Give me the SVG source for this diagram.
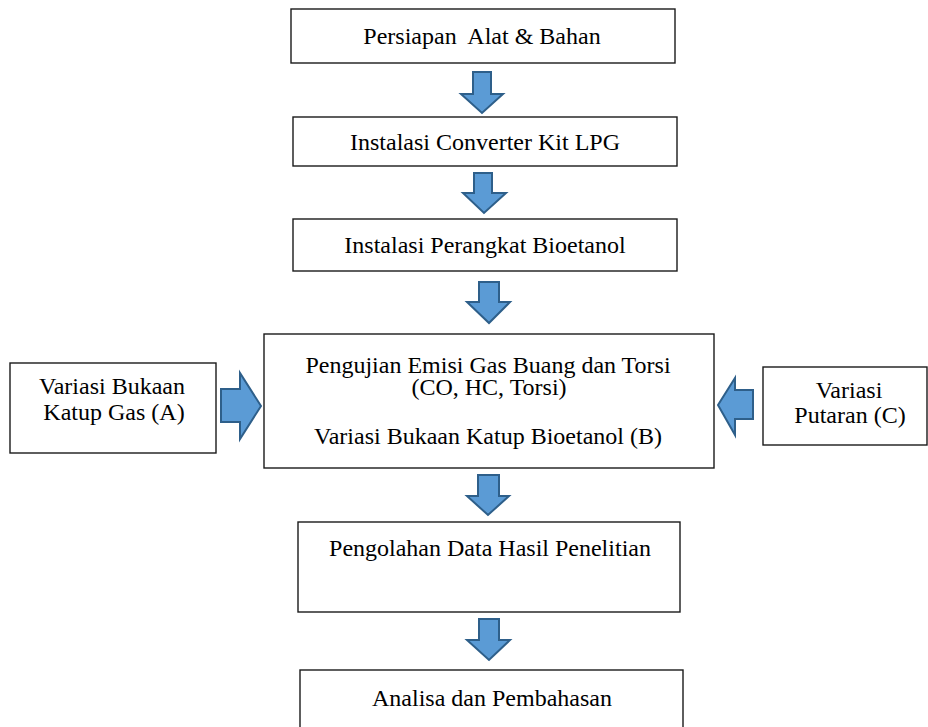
<svg xmlns="http://www.w3.org/2000/svg" width="928" height="727" viewBox="0 0 928 727">
<style>
.box{fill:#fff;stroke:#1a1a1a;stroke-width:1.4}
.arr{fill:#5B9BD5;stroke:#2E5F8A;stroke-width:2;stroke-linejoin:miter}
text{font-family:"Liberation Serif","Times New Roman",serif;font-size:24px;fill:#000;text-anchor:middle}
</style>
<rect width="928" height="727" fill="#fff"/>
<g id="n1"><rect class="box" x="291" y="9" width="384" height="54"/><text x="482" y="44" xml:space="preserve">Persiapan  Alat &amp; Bahan</text></g>
<g id="n2"><rect class="box" x="293" y="117" width="384" height="49"/><text x="485" y="150">Instalasi Converter Kit LPG</text></g>
<g id="n3"><rect class="box" x="293" y="219" width="384" height="52"/><text x="485" y="253">Instalasi Perangkat Bioetanol</text></g>
<g id="n4"><rect class="box" x="264" y="334" width="450" height="134"/><text x="488" y="373">Pengujian Emisi Gas Buang dan Torsi</text><text x="489" y="395">(CO, HC, Torsi)</text><text x="488" y="444">Variasi Bukaan Katup Bioetanol (B)</text></g>
<g id="nA"><rect class="box" x="10" y="363" width="206" height="90"/><text x="112" y="394">Variasi Bukaan</text><text x="114" y="420">Katup Gas (A)</text></g>
<g id="nC"><rect class="box" x="763" y="367" width="164" height="78"/><text x="849" y="398">Variasi</text><text x="850" y="423">Putaran (C)</text></g>
<g id="n5"><rect class="box" x="298" y="522" width="382" height="90"/><text x="490" y="556">Pengolahan Data Hasil Penelitian</text></g>
<g id="n6"><rect class="box" x="300" y="670" width="383" height="70"/><text x="492" y="706">Analisa dan Pembahasan</text></g>
<g id="connectors">
<polygon class="arr" points="473,72 491,72 491,94 503,94 482,113 461,94 473,94"/>
<polygon class="arr" points="474,173 492,173 492,193 506,193 484,213 463,193 474,193"/>
<polygon class="arr" points="479,282 499,282 499,302 510,302 489,323 467,302 479,302"/>
<polygon class="arr" points="478,475 499,475 499,496 509,496 488,515 467,496 478,496"/>
<polygon class="arr" points="479,619 499,619 499,640 510,640 489,660 467,640 479,640"/>
<polygon class="arr" points="221,389 240,389 240,373 261,406 240,439 240,422 221,422"/>
<polygon class="arr" points="753,390 735,390 735,378 718,405 735,435 735,419 753,419"/>
</g>
</svg>
